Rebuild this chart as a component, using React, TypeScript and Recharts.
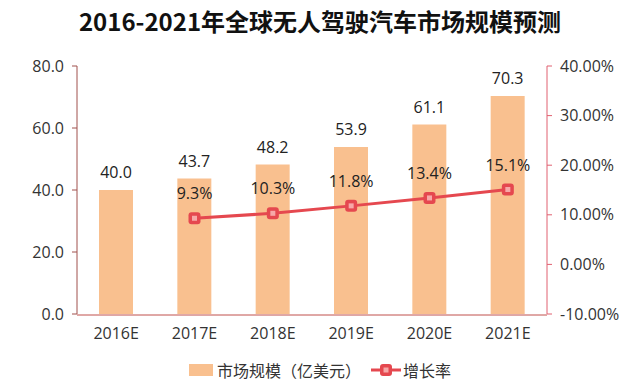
import React from 'react';
import {
  ComposedChart, Bar, Line, XAxis, YAxis, LabelList, Legend,
} from 'recharts';

const categories = ['2016E', '2017E', '2018E', '2019E', '2020E', '2021E'];
const marketSize = [40.0, 43.7, 48.2, 53.9, 61.1, 70.3];
const growthRate: (number | null)[] = [null, 9.3, 10.3, 11.8, 13.4, 15.1];
const leftTicks = [0, 20, 40, 60, 80];
const rightTicks = [-10, 0, 10, 20, 30, 40];
const boundaryTicks = [0, 1, 2, 3, 4, 5, 6];
const title = '2016-2021年全球无人驾驶汽车市场规模预测';
const barName = '市场规模（亿美元）';
const lineName = '增长率';

const data = categories.map((c, i) => ({ name: c, size: marketSize[i], rate: growthRate[i], pos: i + 0.5 }));

const BAR_COLOR = '#f9c08f';
const LINE_COLOR = '#e5484f';
const FONT = '"Open Sans", "Noto Sans CJK SC", sans-serif';
const CJK = '"Noto Sans CJK SC", sans-serif';

const SquareDot = (props: any) => {
  const { cx, cy, value } = props;
  if (value == null || cx == null || cy == null) return null;
  return (
    <g>
      <rect x={cx - 6} y={cy - 6} width={12} height={12} rx={3} fill={LINE_COLOR} />
      <rect x={cx - 2.5} y={cy - 2.5} width={5} height={5} fill="#f7a8a8" />
    </g>
  );
};

const LegendContent = () => (
  <div style={{ display: 'flex', justifyContent: 'center', alignItems: 'center', fontFamily: CJK, fontSize: 16, color: '#333', paddingTop: 12 }}>
    <svg width={24} height={12} style={{ marginRight: 4 }}>
      <rect x={0} y={0} width={24} height={12} fill={BAR_COLOR} />
    </svg>
    <span style={{ marginRight: 10 }}>{barName}</span>
    <svg width={30} height={14} style={{ marginRight: 2 }}>
      <line x1={0} y1={7} x2={30} y2={7} stroke={LINE_COLOR} strokeWidth={3} />
      <rect x={9} y={1} width={12} height={12} rx={3} fill={LINE_COLOR} />
      <rect x={12.5} y={4.5} width={5} height={5} fill="#f7a8a8" />
    </svg>
    <span>{lineName}</span>
  </div>
);

export default function App() {
  return (
    <div style={{ position: 'absolute', left: 0, top: 0, width: 640, height: 391, background: '#fff', fontFamily: FONT }}>
      <div style={{ position: 'absolute', left: 0, top: 3, width: 640, textAlign: 'center', fontSize: 24, fontWeight: 700, color: '#111', fontFamily: CJK }}>
        {title}
      </div>
      <ComposedChart
        width={640}
        height={391}
        data={data}
        margin={{ top: 66, right: 0, bottom: 15, left: 0 }}
      >
        <XAxis
          xAxisId="bound"
          dataKey="pos"
          type="number"
          domain={[0, 6]}
          ticks={boundaryTicks}
          allowDataOverflow
          height={1}
          axisLine={false}
          tick={false}
          tickLine={{ stroke: '#c0504d', strokeWidth: 1 }}
          tickSize={5}
        />
        <XAxis
          dataKey="name"
          xAxisId="cat"
          height={31}
          axisLine={{ stroke: '#c0504d' }}
          tickLine={false}
          tick={{ fill: '#333', fontSize: 16, fontFamily: FONT }}
          tickMargin={7}
        />
        <YAxis
          yAxisId="left"
          width={77}
          domain={[0, 80]}
          ticks={leftTicks}
          tickFormatter={(v: number) => v.toFixed(1)}
          axisLine={{ stroke: '#a0504d' }}
          tickLine={{ stroke: '#a0504d' }}
          tickSize={5}
          tick={{ fill: '#333', fontSize: 16, fontFamily: FONT }}
          tickMargin={8}
        />
        <YAxis
          yAxisId="right"
          orientation="right"
          width={93}
          domain={[-10, 40]}
          ticks={rightTicks}
          tickFormatter={(v: number) => v.toFixed(2) + '%'}
          axisLine={{ stroke: '#e06070' }}
          tickLine={{ stroke: '#e06070' }}
          tickSize={5}
          tick={{ fill: '#333', fontSize: 16, fontFamily: FONT }}
          tickMargin={8}
        />
        <Legend verticalAlign="bottom" height={30} content={<LegendContent />} />
        <Bar xAxisId="cat" yAxisId="left" dataKey="size" name={barName} fill={BAR_COLOR} barSize={34} isAnimationActive={false}>
          <LabelList dataKey="size" position="top" offset={12} formatter={(v: any) => Number(v).toFixed(1)} style={{ fill: '#222', fontSize: 16, fontFamily: FONT }} />
        </Bar>
        <Line
          xAxisId="cat"
          yAxisId="right"
          dataKey="rate"
          name={lineName}
          stroke={LINE_COLOR}
          strokeWidth={3}
          dot={<SquareDot />}
          activeDot={false}
          connectNulls={false}
          isAnimationActive={false}
        >
          <LabelList dataKey="rate" position="top" offset={19} formatter={(v: any) => (v == null ? '' : Number(v).toFixed(1) + '%')} style={{ fill: '#222', fontSize: 16, fontFamily: FONT }} />
        </Line>
      </ComposedChart>
    </div>
  );
}
